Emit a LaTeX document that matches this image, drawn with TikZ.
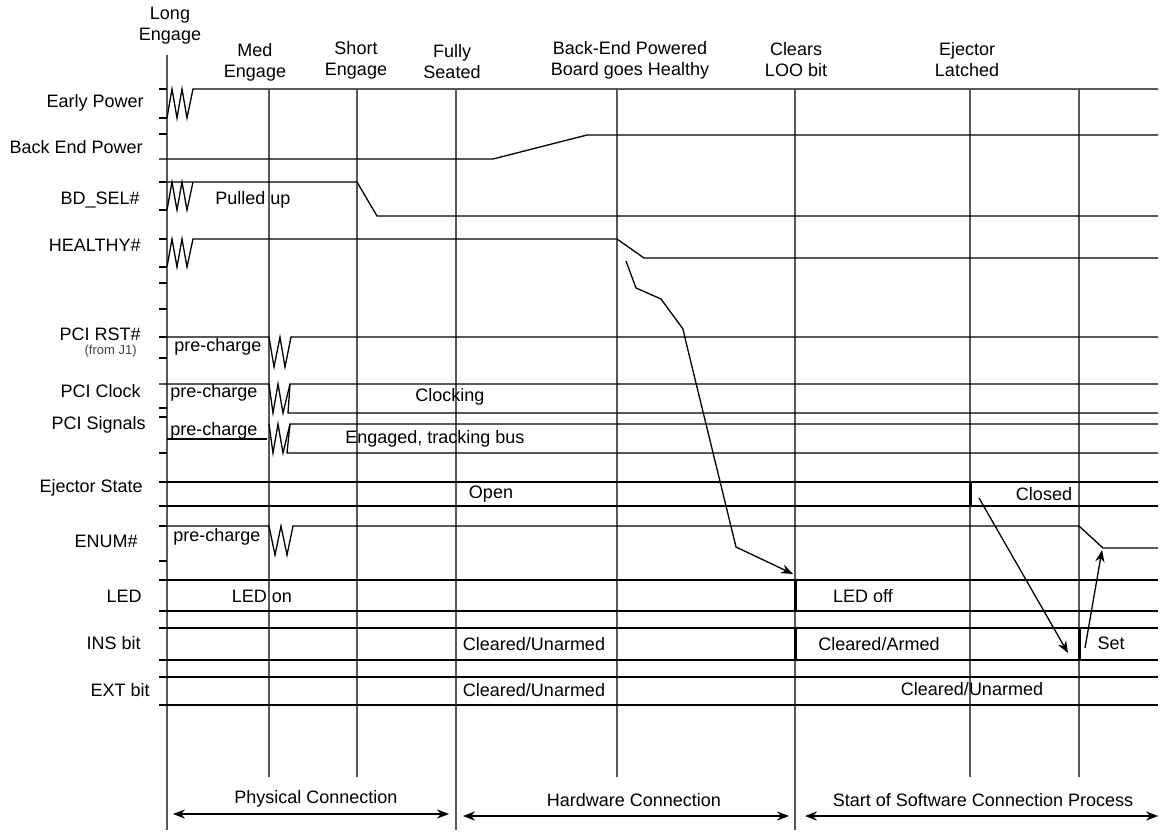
\documentclass[tikz,border=0pt]{standalone}
\usepackage{fontspec}
\setmainfont{Liberation Sans}
\usetikzlibrary{arrows.meta}

\begin{document}
\begin{tikzpicture}[x=0.5pt, y=-0.5pt, >={Stealth[length=6pt,width=4.6pt]},
    sig/.style={line width=0.65pt},
    grid/.style={line width=0.7pt, black!65},
    latch/.style={line width=1.5pt},
    txt/.style={inner sep=0pt, font=\fontsize{9}{10.5}\selectfont},
    head/.style={txt, align=center}]
    \useasboundingbox (0,0) rectangle (1161,836);
    % event lines
    \draw[grid] (167,55) -- (167,830);
    \foreach \x in {269,357,617,970,1079}
        \draw[grid] (\x,90) -- (\x,777);
    \foreach \x in {456,795}
        \draw[grid] (\x,90) -- (\x,830);
    % ticks on the axis
    \foreach \y in {89,118,134,182,210,239,267,283,309,337,358,408,417,453,526,561}
        \draw[sig] (159,\y) -- (167,\y);
    % headings
    \node[head] (hLong) at (170,26) {Long\\Engage};
    \node[head] (hMed) at (255,62) {Med\\Engage};
    \node[head] (hShort) at (356,60) {Short\\Engage};
    \node[head] (hFully) at (452,62) {Fully\\Seated};
    \node[head] (hBack) at (630,60) {Back-End Powered\\Board goes Healthy};
    \node[head] (hClears) at (796,60) {Clears\\LOO bit};
    \node[head] (hEjector) at (967,60) {Ejector\\Latched};
    % signal names
    \node[txt, anchor=east] (lEarly) at (144,103) {Early Power};
    \node[txt, anchor=east] (lBack) at (143,147) {Back End Power};
    \node[txt, anchor=east] (lBdsel) at (140,200) {BD\_SEL\#};
    \node[txt, anchor=east] (lHealthy) at (141,245) {HEALTHY\#};
    \node[txt, anchor=east] (lRst) at (141,334) {PCI RST\#};
    \node[inner sep=0pt, font=\fontsize{6.5}{7}\selectfont, anchor=east, black!75] (lJone) at (137,351) {(from J1)};
    \node[txt, anchor=east] (lClock) at (141,391) {PCI Clock};
    \node[txt, anchor=east] (lSignals) at (146,425) {PCI Signals};
    \node[txt, anchor=east] (lEjector) at (143,488) {Ejector State};
    \node[txt, anchor=east] (lEnum) at (138,541) {ENUM\#};
    \node[txt, anchor=east] (lLed) at (142,596) {LED};
    \node[txt, anchor=east] (lIns) at (141,643) {INS bit};
    \node[txt, anchor=east] (lExt) at (150,690) {EXT bit};
    % Early Power
    \draw[sig] (167,118) -- (172,89) -- (177,118) -- (182,89) -- (187,118) -- (193,89) -- (1158,89);
    % Back End Power
    \draw[sig] (159,159) -- (493,159) -- (587,135) -- (1158,135);
    % BD_SEL#
    \draw[sig] (167,182) -- (357,182) -- (377,216) -- (1158,216);
    \draw[sig] (167,210) -- (172,182) -- (177,210) -- (182,182) -- (187,210) -- (193,182);
    \node[txt, anchor=west] (tPulled) at (215,200) {Pulled up};
    % HEALTHY#
    \draw[sig] (167,267) -- (172,239) -- (177,267) -- (182,239) -- (187,267) -- (193,239) -- (617,239) -- (644,258) -- (1158,258);
    % PCI RST#
    \draw[sig] (167,337) -- (269,337) -- (274,367) -- (280,337) -- (285,367) -- (291,337) -- (1158,337);
    \node[txt, anchor=west] (tPreRst) at (174,347) {pre-charge};
    % PCI Clock
    \draw[sig] (159,384) -- (269,384) -- (273,413) -- (278,384) -- (283,413) -- (290,384) -- (1158,384);
    \draw[sig] (290,384) -- (288,413) -- (1158,413);
    \node[txt, anchor=west] (tPreClock) at (170,393) {pre-charge};
    \node[txt, anchor=west] (tClocking) at (415,397) {Clocking};
    % PCI Signals
    \draw[sig] (167,439) -- (267,439);
    \draw[sig] (269,424) -- (273,453) -- (278,424) -- (283,453) -- (290,424) -- (1158,424);
    \draw[sig] (290,424) -- (287,453) -- (1158,453);
    \node[txt, anchor=west] (tPreSig) at (170,431) {pre-charge};
    \node[txt, anchor=west] (tEngaged) at (345,439) {Engaged, tracking bus};
    % Ejector State
    \draw[sig] (159,482) -- (1158,482);
    \draw[sig] (159,506) -- (1158,506);
    \draw[latch] (970,482) -- (970,506);
    \node[txt] (tOpen) at (491,494) {Open};
    \node[txt] (tClosed) at (1044,494) {Closed};
    % ENUM#
    \draw[sig] (167,526) -- (269,526) -- (275,555) -- (281,526) -- (287,555) -- (293,526) -- (1079,526) -- (1103,548) -- (1158,548);
    \node[txt, anchor=west] (tPreEnum) at (173,537) {pre-charge};
    % LED
    \draw[sig] (159,580) -- (1158,580);
    \draw[sig] (159,611) -- (1158,611);
    \draw[latch] (795,580) -- (795,611);
    \node[txt] (tLedOn) at (262,596) {LED on};
    \node[txt] (tLedOff) at (863,596) {LED off};
    % INS bit
    \draw[sig] (159,628) -- (1158,628);
    \draw[sig] (159,660) -- (1158,660);
    \draw[latch] (795,628) -- (795,660);
    \draw[latch] (1079,628) -- (1079,660);
    \node[txt] (tInsCleared) at (534,644) {Cleared/Unarmed};
    \node[txt] (tInsArmed) at (879,644) {Cleared/Armed};
    \node[txt] (tSet) at (1111,643) {Set};
    % EXT bit
    \draw[sig] (159,677) -- (1158,677);
    \draw[sig] (159,705) -- (1158,705);
    \node[txt] (tExtCleared) at (534,690) {Cleared/Unarmed};
    \node[txt] (tExtCleared2) at (972,689) {Cleared/Unarmed};
    % cause and effect
    \coordinate (healthyLow) at (626,261);
    \coordinate (ledOff) at (793,574);
    \draw[sig, ->] (healthyLow) -- (636,288) -- (661,299) -- (683,329) -- (685,338) -- (736,547) -- (ledOff);
    \coordinate (closed) at (979,498);
    \coordinate (insSet) at (1068,653);
    \draw[sig, ->] (closed) -- (insSet);
    \coordinate (setFrom) at (1085,648);
    \coordinate (enumLow) at (1102,550);
    \draw[sig, ->] (setFrom) -- (enumLow);
    % phases
    \node[txt] (pPhys) at (316,799) {Physical Connection};
    \node[txt] (pHard) at (634,800) {Hardware Connection};
    \node[txt] (pSoft) at (983,800) {Start of Software Connection Process};
    \draw[sig, <->] (173,814) -- (449,814);
    \draw[sig, <->] (463,816) -- (789,816);
    \draw[sig, <->] (805,816) -- (1158,816);
\end{tikzpicture}
\end{document}
